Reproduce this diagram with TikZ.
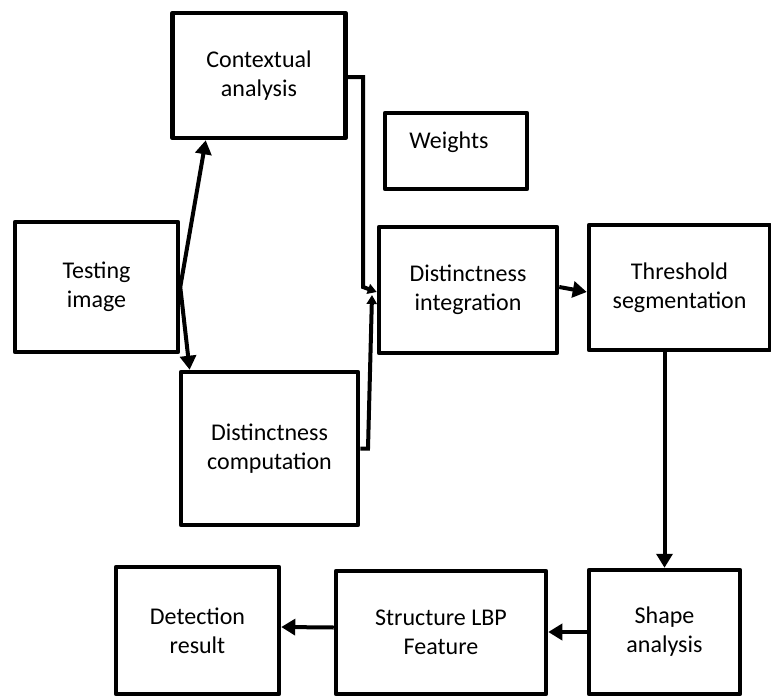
\documentclass[tikz,border=0pt]{standalone}
\usepackage{fontspec}
\setmainfont{Carlito}
\usetikzlibrary{arrows.meta,calc}
\begin{document}
\begin{tikzpicture}[x=1pt,y=-1pt,
  txt/.style={align=center, inner sep=0pt, font=\fontsize{24}{29}\selectfont},
  box/.style={txt, draw, line width=4.5pt, rectangle, line join=round},
  conn/.style={line width=4pt, -{Triangle[length=14pt,width=16pt]}},
  smallconn/.style={line width=4pt, -{Triangle[length=9pt,width=10pt]}}]
\useasboundingbox (0,0) rectangle (771,696);
\fill[white] (0,0) rectangle (771,696);

\node[box, minimum width=173pt, minimum height=125pt] (ctx) at (259,75.5) {Contextual\\analysis};
\node[box, minimum width=142pt, minimum height=76pt] (wts) at (456,151) {};
\node[txt] (wtsl) at (449,142) {Weights};
\node[box, minimum width=163pt, minimum height=130pt] (test) at (96.5,287) {Testing\\image};
\node[box, minimum width=178pt, minimum height=126pt] (dint) at (468,290) {Distinctness\\integration};
\node[box, minimum width=181pt, minimum height=125pt] (thr) at (679.5,287.5) {Threshold\\segmentation};
\node[box, minimum width=177pt, minimum height=153pt] (dcomp) at (269.5,448.5) {Distinctness\\computation};
\node[box, minimum width=163pt, minimum height=127pt] (det) at (197.5,630.5) {Detection\\result};
\node[box, minimum width=210pt, minimum height=123pt] (slbp) at (441,632.5) {Structure LBP\\Feature};
\node[box, minimum width=151pt, minimum height=124pt] (shape) at (664.5,632) {Shape\\analysis};

% from testing image
\draw[conn] (test.east) -- ($(ctx.south west)!0.2!(ctx.south east)$);
\draw[conn] (test.east) -- ($(dcomp.north west)!0.06!(dcomp.north east)$);

% into distinctness integration
\coordinate (j1) at (363,287);
\coordinate (j2) at (368,448.5);
\coordinate (t2) at (372,295);
\draw[smallconn] ($(ctx.east)+(0,1.5)$) -| (j1) -- ($(dint.west)+(0,2)$);
\draw[smallconn] (dcomp.east) -- (j2) -- (t2);

\draw[conn] ($(dint.east)+(0,-3)$) -- ($(thr.west)+(0,4.5)$);
\draw[conn] (thr.south -| shape.north) -- (shape.north);
\draw[conn] (shape.west) -- (slbp.east |- shape.west);
\draw[conn] ($(slbp.west)+(0,-5)$) -- ($(det.east)+(0,-3.5)$);
\end{tikzpicture}
\end{document}
